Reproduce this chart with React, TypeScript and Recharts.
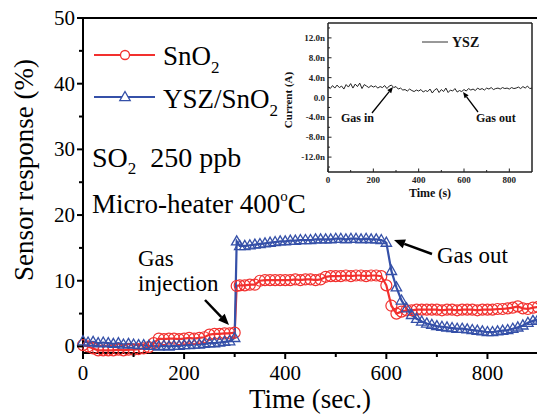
import React from 'react';
import {
  LineChart, Line, XAxis, YAxis, ReferenceLine,
} from 'recharts';

const SERIF = "'Liberation Serif', 'Times New Roman', serif";
const RED = '#f2302e';
const BLUE = '#3550a8';

// time (s) for the main response curves
const timeSec = [
  0, 10, 20, 30, 40, 50, 60, 70, 80, 90,
  100, 110, 120, 130, 140, 150, 160, 170, 180, 190,
  200, 210, 220, 230, 240, 250, 260, 270, 280, 290,
  300, 304, 310, 320, 330, 340, 350, 360, 370, 380, 390,
  400, 410, 420, 430, 440, 450, 460, 470, 480, 490,
  500, 510, 520, 530, 540, 550, 560, 570, 580, 590,
  600, 610, 620, 630, 640, 650, 660, 670, 680, 690,
  700, 710, 720, 730, 740, 750, 760, 770, 780, 790,
  800, 810, 820, 830, 840, 850, 860, 870, 880, 890,
  900,
];

// SnO2 response (%)
const sno2 = [
  0.2, 0.0, -0.3, -0.6, -0.6, -0.6, -0.6, -0.5, -0.6, -0.5,
  -0.5, -0.4, -0.3, -0.1, 0.5, 1.2, 1.1, 1.2, 1.2, 1.1,
  1.2, 1.3, 1.2, 1.3, 1.4, 1.8, 1.9, 1.9, 2.0, 2.0,
  2.1, 9.2, 9.3, 9.3, 9.4, 9.4, 10.0, 10.1, 10.1, 10.1, 10.1,
  10.1, 10.1, 10.2, 10.1, 10.2, 10.2, 10.1, 10.2, 10.6, 10.7,
  10.7, 10.7, 10.8, 10.7, 10.8, 10.8, 10.7, 10.8, 10.8, 10.7,
  9.3, 6.2, 5.0, 5.3, 5.5, 5.5, 5.6, 5.6, 5.6, 5.6,
  5.6, 5.5, 5.6, 5.6, 5.5, 5.6, 5.6, 5.6, 5.5, 5.6,
  5.6, 5.6, 5.7, 5.7, 5.8, 5.9, 6.1, 5.8, 5.7, 5.9,
  6.0,
];

// YSZ/SnO2 response (%)
const yszSno2 = [
  0.8, 0.6, 0.7, 0.5, 0.6, 0.5, 0.4, 0.5, 0.3, 0.4,
  0.3, 0.2, 0.2, 0.1, 0.1, 0.0, 0.1, 0.0, 0.1, 0.1,
  0.2, 0.2, 0.3, 0.3, 0.4, 0.5, 0.5, 0.6, 0.7, 0.8,
  1.3, 16.0, 15.3, 15.3, 15.4, 15.5, 15.6, 15.7, 15.8, 15.9, 16.0,
  16.0, 16.1, 16.1, 16.2, 16.2, 16.2, 16.3, 16.3, 16.3, 16.3,
  16.4, 16.4, 16.3, 16.4, 16.4, 16.3, 16.4, 16.3, 16.3, 16.2,
  15.8, 11.5, 9.0, 7.0, 5.8, 4.8, 4.2, 3.8, 3.5, 3.3,
  3.1, 3.0, 2.9, 2.8, 2.7, 2.7, 2.6, 2.5, 2.4, 2.3,
  2.2, 2.2, 2.3, 2.4, 2.5, 2.7, 2.9, 3.2, 3.6, 3.9,
  4.1,
];

// inset: YSZ current (nA), every 10 s
const insetTime = [
  0, 10, 20, 30, 40, 50, 60, 70, 80, 90,
  100, 110, 120, 130, 140, 150, 160, 170, 180, 190,
  200, 210, 220, 230, 240, 250, 260, 270, 280, 290,
  300, 310, 320, 330, 340, 350, 360, 370, 380, 390,
  400, 410, 420, 430, 440, 450, 460, 470, 480, 490,
  500, 510, 520, 530, 540, 550, 560, 570, 580, 590,
  600, 610, 620, 630, 640, 650, 660, 670, 680, 690,
  700, 710, 720, 730, 740, 750, 760, 770, 780, 790,
  800, 810, 820, 830, 840, 850, 860, 870, 880, 890,
  900,
];
const yszCurrent = [
  2.2, 1.8, 2.4, 1.9, 2.5, 2.0, 2.3, 1.7, 2.6, 2.1,
  2.8, 1.9, 2.7, 2.2, 2.9, 1.8, 2.6, 2.3, 2.0, 2.4,
  2.1, 2.3, 1.9, 2.2, 2.0, 2.4, 1.8, 2.3, 2.5, 2.0,
  2.2, 1.7, 1.9, 1.5, 1.6, 1.3, 1.7, 1.4, 1.2, 1.5,
  1.3, 1.6, 1.1, 1.4, 1.2, 1.7, 0.9, 1.5, 1.8, 1.0,
  1.6, 1.2, 1.9, 1.0, 1.5, 1.3, 1.8, 1.1, 1.4, 1.2,
  1.6, 1.3, 1.8, 1.5, 1.7, 1.4, 1.9, 1.6, 1.8, 1.5,
  1.9, 1.7, 2.0, 1.6, 1.8, 1.9, 1.7, 2.0, 1.8, 1.9,
  1.7, 2.0, 1.8, 1.9, 2.1, 1.8, 2.2, 1.9, 2.3, 1.8,
  1.9,
];

const mainXTicks = [0, 100, 200, 300, 400, 500, 600, 700, 800, 900];
const mainYTicks = [0, 5, 10, 15, 20, 25, 30, 35, 40, 45, 50];
const insetXTicks = [0, 100, 200, 300, 400, 500, 600, 700, 800];
const insetYTicks = [-14, -12, -10, -8, -6, -4, -2, 0, 2, 4, 6, 8, 10, 12, 14];

const mainData = timeSec.map((t, i) => ({ t, sno2: sno2[i], ysz: yszSno2[i] }));
const insetData = insetTime.map((t, i) => ({ t, cur: yszCurrent[i] }));

const TriDot = (props: any) => {
  const { cx, cy, index } = props;
  if (cx == null || cy == null) return null;
  return (
    <path
      key={`tri-${index}`}
      d={`M${cx},${cy - 5.5} L${cx + 5.2},${cy + 3.6} L${cx - 5.2},${cy + 3.6} Z`}
      fill="none"
      stroke={BLUE}
      strokeWidth={1.3}
    />
  );
};

const MainXTick = (props: any) => {
  const { x, y, payload } = props;
  const major = payload.value % 200 === 0;
  return (
    <g>
      <line x1={x} x2={x} y1={y} y2={y + (major ? 6 : 4)} stroke="#000" strokeWidth={2} />
      {major && payload.value < 900 && (
        <text x={x} y={y + 27} textAnchor="middle" fontSize={21} fontFamily={SERIF} fill="#000">
          {payload.value}
        </text>
      )}
    </g>
  );
};

const MainYTick = (props: any) => {
  const { x, y, payload } = props;
  const major = payload.value % 10 === 0;
  return (
    <g>
      <line x1={x - (major ? 6 : 4)} x2={x} y1={y} y2={y} stroke="#000" strokeWidth={2} />
      {major && (
        <text x={x - 8} y={y + 7} textAnchor="end" fontSize={21} fontFamily={SERIF} fill="#000">
          {payload.value}
        </text>
      )}
    </g>
  );
};

const InsetXTick = (props: any) => {
  const { x, y, payload } = props;
  const major = payload.value % 200 === 0;
  return (
    <g>
      <line x1={x} x2={x} y1={y} y2={y - (major ? 3.5 : 2)} stroke="#222" strokeWidth={1} />
      {major && (
        <text x={x} y={y + 11} textAnchor="middle" fontSize={9} fontWeight="bold" fontFamily={SERIF} fill="#222">
          {payload.value}
        </text>
      )}
    </g>
  );
};

const InsetYTick = (props: any) => {
  const { x, y, payload } = props;
  const v = payload.value;
  const major = v % 4 === 0;
  return (
    <g>
      <line x1={x} x2={x + (major ? 3.5 : 2)} y1={y} y2={y} stroke="#222" strokeWidth={1} />
      {major && (
        <text x={x - 3} y={y + 3} textAnchor="end" fontSize={9} fontWeight="bold" fontFamily={SERIF} fill="#222">
          {v === 0 ? '0.0' : `${v.toFixed(1)}n`}
        </text>
      )}
    </g>
  );
};

const Arrow = ({ x1, y1, x2, y2, w, head }: { x1: number; y1: number; x2: number; y2: number; w: number; head: number }) => {
  const dx = x2 - x1;
  const dy = y2 - y1;
  const len = Math.sqrt(dx * dx + dy * dy);
  const ux = dx / len;
  const uy = dy / len;
  const bx = x2 - ux * head;
  const by = y2 - uy * head;
  const hw = head * 0.42;
  return (
    <g>
      <line x1={x1} y1={y1} x2={bx} y2={by} stroke="#000" strokeWidth={w} />
      <path
        d={`M${x2},${y2} L${bx - uy * hw},${by + ux * hw} L${bx + uy * hw},${by - ux * hw} Z`}
        fill="#000"
      />
    </g>
  );
};

const App: React.FC = () => (
  <div style={{ position: 'absolute', left: 0, top: 0, width: 537, height: 415, overflow: 'hidden', background: '#fff' }}>
    <div style={{ position: 'absolute', left: 0, top: 0 }}>
      <LineChart width={540} height={415} data={mainData} margin={{ top: 18, right: 2, bottom: 0, left: 0 }}>
        <XAxis
          dataKey="t"
          type="number"
          domain={[0, 900]}
          ticks={mainXTicks}
          tick={<MainXTick />}
          tickLine={false}
          tickSize={0}
          tickMargin={0}
          axisLine={{ stroke: '#000', strokeWidth: 2 }}
          height={62}
          interval={0}
        />
        <YAxis
          type="number"
          domain={[-1, 50]}
          ticks={mainYTicks}
          tick={<MainYTick />}
          tickLine={false}
          tickSize={0}
          tickMargin={0}
          axisLine={{ stroke: '#000', strokeWidth: 2 }}
          width={83}
          interval={0}
        />
        <ReferenceLine y={50} stroke="#000" strokeWidth={2} />
        <Line
          dataKey="sno2"
          stroke={RED}
          strokeWidth={2.2}
          dot={{ r: 5.5, fill: 'none', stroke: RED, strokeWidth: 1.2 }}
          isAnimationActive={false}
        />
        <Line
          dataKey="ysz"
          stroke={BLUE}
          strokeWidth={2.2}
          dot={(p: any) => <TriDot {...p} />}
          isAnimationActive={false}
        />
      </LineChart>
    </div>

    <div style={{ position: 'absolute', left: 278, top: 0 }}>
      <LineChart width={260} height={205} data={insetData} margin={{ top: 23, right: 6, bottom: 0, left: 0 }}>
        <XAxis
          dataKey="t"
          type="number"
          domain={[0, 900]}
          ticks={insetXTicks}
          tick={<InsetXTick />}
          tickLine={false}
          tickSize={0}
          tickMargin={0}
          axisLine={{ stroke: '#222', strokeWidth: 1.5 }}
          height={33}
          interval={0}
        />
        <YAxis
          type="number"
          domain={[-15, 15]}
          ticks={insetYTicks}
          tick={<InsetYTick />}
          tickLine={false}
          tickSize={0}
          tickMargin={0}
          axisLine={{ stroke: '#222', strokeWidth: 1.5 }}
          width={50}
          interval={0}
        />
        <ReferenceLine y={15} stroke="#222" strokeWidth={1.5} />
        <ReferenceLine x={900} stroke="#222" strokeWidth={1.5} />
        <Line dataKey="cur" stroke="#222" strokeWidth={1} dot={false} isAnimationActive={false} />
      </LineChart>
    </div>

    <svg width={537} height={415} style={{ position: 'absolute', left: 0, top: 0, pointerEvents: 'none' }}>
      {/* main legend */}
      <line x1={94} x2={155} y1={55} y2={55} stroke={RED} strokeWidth={2.2} />
      <circle cx={125} cy={55} r={4.5} fill="#fff" stroke={RED} strokeWidth={1.3} />
      <text x={163} y={65} fontSize={27} fontFamily={SERIF} fill="#000">
        SnO<tspan fontSize={17} dy={8}>2</tspan>
      </text>
      <line x1={94} x2={155} y1={97} y2={97} stroke={BLUE} strokeWidth={2.2} />
      <path d="M125,91.5 L130.2,100.6 L119.8,100.6 Z" fill="#fff" stroke={BLUE} strokeWidth={1.3} />
      <text x={163} y={108} fontSize={27} fontFamily={SERIF} fill="#000">
        YSZ/SnO<tspan fontSize={17} dy={8}>2</tspan>
      </text>

      {/* main axis titles */}
      <text x={310} y={408} textAnchor="middle" fontSize={27} fontFamily={SERIF} fill="#000">Time (sec.)</text>
      <text
        x={0}
        y={0}
        transform="translate(33,170) rotate(-90)"
        textAnchor="middle"
        fontSize={27}
        fontFamily={SERIF}
        fill="#000"
      >
        Sensor response (%)
      </text>

      {/* conditions */}
      <text x={92} y={167} fontSize={28} fontFamily={SERIF} fill="#000">
        SO<tspan fontSize={17} dy={7}>2</tspan><tspan dy={-7}>{'\u00a0\u00a0250 ppb'}</tspan>
      </text>
      <text x={92} y={213} fontSize={27} fontFamily={SERIF} fill="#000">
        Micro-heater 400<tspan fontSize={15} dy={-12}>o</tspan><tspan dy={12}>C</tspan>
      </text>

      {/* main annotations */}
      <text x={138} y={266} fontSize={23} fontFamily={SERIF} fill="#000">Gas</text>
      <text x={138} y={291} fontSize={23} fontFamily={SERIF} fill="#000">injection</text>
      <Arrow x1={205} y1={300} x2={229} y2={325} w={2.5} head={11} />
      <text x={437} y={263} fontSize={23} fontFamily={SERIF} fill="#000">Gas out</text>
      <Arrow x1={432} y1={254} x2={394} y2={240} w={2.5} head={11} />

      {/* inset legend, titles and annotations */}
      <line x1={422} x2={448} y1={42} y2={42} stroke="#333" strokeWidth={1} />
      <text x={452} y={47} fontSize={14} fontWeight="bold" fontFamily={SERIF} fill="#111">YSZ</text>
      <text
        x={0}
        y={0}
        transform="translate(292,100) rotate(-90)"
        textAnchor="middle"
        fontSize={11}
        fontWeight="bold"
        fontFamily={SERIF}
        fill="#111"
      >
        Current (A)
      </text>
      <text x={430} y={197} textAnchor="middle" fontSize={12} fontWeight="bold" fontFamily={SERIF} fill="#111">Time (s)</text>
      <text x={341} y={122} fontSize={12} fontWeight="bold" fontFamily={SERIF} fill="#111">Gas in</text>
      <Arrow x1={372} y1={113} x2={393} y2={87} w={1.3} head={6} />
      <text x={476} y={122} fontSize={12} fontWeight="bold" fontFamily={SERIF} fill="#111">Gas out</text>
      <Arrow x1={478} y1={112} x2={463} y2={92} w={1.3} head={6} />
    </svg>
  </div>
);

export default App;
